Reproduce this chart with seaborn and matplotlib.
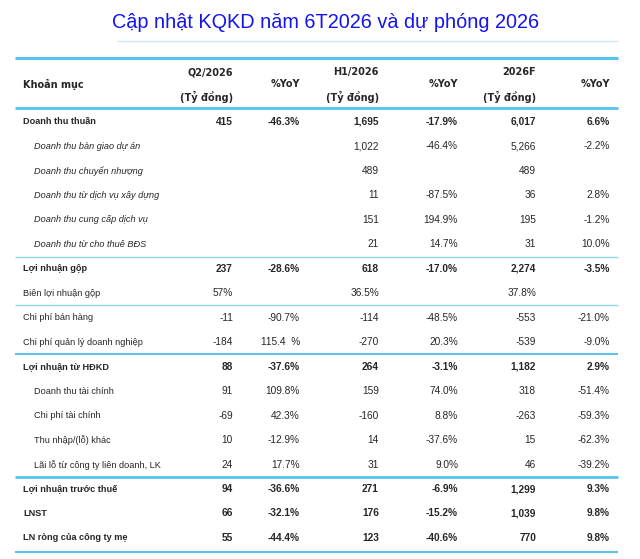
import matplotlib
matplotlib.use("Agg")
import matplotlib.pyplot as plt
import seaborn as sns
from matplotlib import font_manager as fm

# ---------------- data ----------------
title = "Cập nhật KQKD năm 6T2026 và dự phóng 2026"
first_header = "Khoản mục"
period_headers = ["Q2/2026", "H1/2026", "2026F"]
unit_header = "(Tỷ đồng)"
yoy_header = "%YoY"

labels = [
    "Doanh thu thuần",
    "Doanh thu bàn giao dự án",
    "Doanh thu chuyển nhượng",
    "Doanh thu từ dịch vụ xây dựng",
    "Doanh thu cung cấp dịch vụ",
    "Doanh thu từ cho thuê BĐS",
    "Lợi nhuận gộp",
    "Biên lợi nhuận gộp",
    "Chi phí bán hàng",
    "Chi phí quản lý doanh nghiệp",
    "Lợi nhuận từ HĐKD",
    "Doanh thu tài chính",
    "Chi phí tài chính",
    "Thu nhập/(lỗ) khác",
    "Lãi lỗ từ công ty liên doanh, LK",
    "Lợi nhuận trước thuế",
    "LNST",
    "LN ròng của công ty mẹ",
]
q2_value = ["415", "", "", "", "", "", "237", "57%", "-11", "-184", "88",
            "91", "-69", "10", "24", "94", "66", "55"]
q2_yoy = ["-46.3%", "", "", "", "", "", "-28.6%", "", "-90.7%", "115.4  %",
          "-37.6%", "109.8%", "42.3%", "-12.9%", "17.7%", "-36.6%", "-32.1%", "-44.4%"]
h1_value = ["1,695", "1,022", "489", "11", "151", "21", "618", "36.5%", "-114",
            "-270", "264", "159", "-160", "14", "31", "271", "176", "123"]
h1_yoy = ["-17.9%", "-46.4%", "", "-87.5%", "194.9%", "14.7%", "-17.0%", "",
          "-48.5%", "20.3%", "-3.1%", "74.0%", "8.8%", "-37.6%", "9.0%", "-6.9%",
          "-15.2%", "-40.6%"]
f26_value = ["6,017", "5,266", "489", "36", "195", "31", "2,274", "37.8%", "-553",
             "-539", "1,182", "318", "-263", "15", "46", "1,299", "1,039", "770"]
f26_yoy = ["6.6%", "-2.2%", "", "2.8%", "-1.2%", "10.0%", "-3.5%", "", "-21.0%",
           "-9.0%", "2.9%", "-51.4%", "-59.3%", "-62.3%", "-39.2%", "9.3%", "9.8%", "9.8%"]

# ---------------- styles ----------------
bold_rows = {0, 6, 10, 15, 16, 17}
italic_rows = {1, 2, 3, 4, 5}
indent_rows = {1, 2, 3, 4, 5, 11, 12, 13, 14}

sns.set_theme(style="white")


def pick(*names):
    for n in names:
        try:
            fm.findfont(fm.FontProperties(family=n), fallback_to_default=False)
            return n
        except Exception:
            continue
    return "DejaVu Sans"


body_font = pick("Liberation Sans Narrow", "DejaVu Sans Condensed", "Liberation Sans")
narrow = body_font != "Liberation Sans"
label_size = 7.7 if narrow else 6.6
value_size = 8.6 if narrow else 7.3
head_font = "DejaVu Sans"
title_font = pick("Liberation Sans", "DejaVu Sans")
plt.rcParams["font.family"] = [body_font, "DejaVu Sans"]

fig = plt.figure(figsize=(6.4, 5.59), dpi=100)
ax = fig.add_axes([0, 0, 1, 1])
ax.set_xlim(0, 640)
ax.set_ylim(17.86, -4.985)
ax.axis("off")

# title
ax.text(325.5, -4.08, title, ha="center", va="center", color="#1414EE",
        fontsize=14.3, family=[title_font, "DejaVu Sans"])
ax.hlines(-3.31, 117, 618, color="#CDE6F6", lw=1.0)

line_col = "#55C3F0"
ax.hlines(-2.615, 15, 618, color=line_col, lw=2.2)
ax.hlines(-0.57, 15, 618, color=line_col, lw=2.0)

# header
ax.text(23, -1.55, first_header, ha="left", va="center", fontsize=7,
        fontweight="bold", family=[head_font])
value_right = [233, 379, 536]
yoy_right = [300, 458, 610]
for xr, ph in zip(value_right, period_headers):
    ax.text(xr, -2.04, ph, ha="right", va="center", fontsize=7,
            fontweight="bold", family=[head_font])
    ax.text(xr, -1.02, unit_header, ha="right", va="center", fontsize=7,
            fontweight="bold", family=[head_font])
for xr in yoy_right:
    ax.text(xr, -1.55, yoy_header, ha="right", va="center", fontsize=7,
            fontweight="bold", family=[head_font])

# body
columns = [q2_value, q2_yoy, h1_value, h1_yoy, f26_value, f26_yoy]
col_right = [233, 300, 379, 458, 536, 610]
for i, lab in enumerate(labels):
    w = "bold" if i in bold_rows else "normal"
    st = "italic" if i in italic_rows else "normal"
    x0 = 34 if i in indent_rows else 23
    ax.text(x0, i, lab, ha="left", va="center", fontsize=label_size,
            fontweight=w, fontstyle=st)
    for xr, col in zip(col_right, columns):
        if col[i]:
            ax.text(xr, i, col[i], ha="right", va="center", fontsize=value_size,
                    fontweight=w)

# group separators
ax.hlines([5.5, 7.5], 15, 618, color="#8FD6F3", lw=1.0)
ax.hlines([9.5, 17.57], 15, 618, color=line_col, lw=1.4)
ax.hlines([14.5], 15, 618, color=line_col, lw=2.0)

fig.savefig("out.png", dpi=100, facecolor="white")
